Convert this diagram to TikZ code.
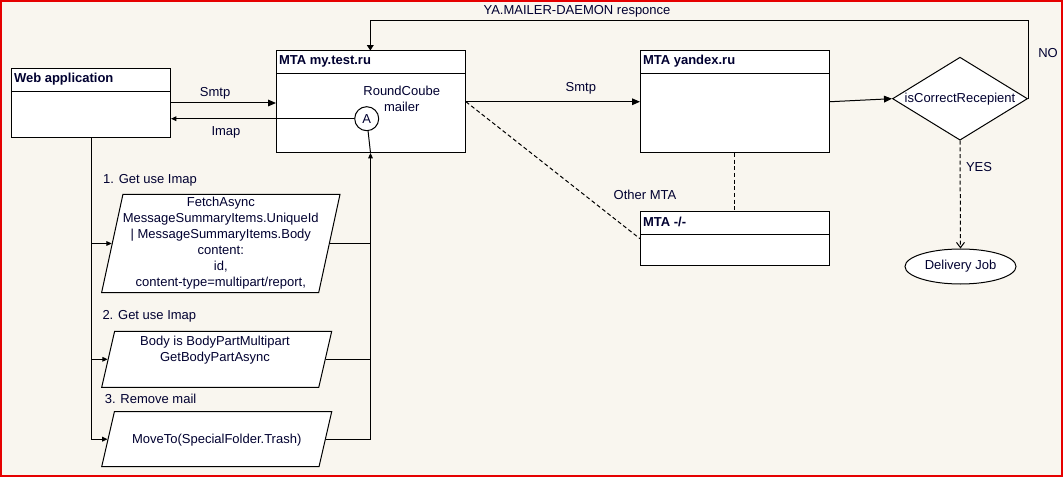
\documentclass[tikz,border=0pt]{standalone}
\usepackage{fontspec}
\setmainfont{Liberation Sans}
\usepackage{tikz}
\usetikzlibrary{shapes.geometric,arrows.meta,calc}
\definecolor{umlPaper}{RGB}{249,246,239}
\definecolor{umlInk}{RGB}{0,0,48}
\definecolor{umlFrame}{RGB}{230,0,0}

\begin{document}
\begin{tikzpicture}[x=0.75pt, y=-0.75pt, line width=0.75pt,
  font=\fontsize{9.75pt}{12pt}\selectfont, text=umlInk,
  klassbox/.style={draw, fill=white, inner sep=0pt, anchor=north west},
  ttl/.style={font=\fontsize{9.75pt}{12pt}\selectfont\bfseries, anchor=west, inner sep=0pt},
  io/.style={trapezium, trapezium left angle=77, trapezium right angle=103,
    trapezium stretches body, draw, fill=white, inner sep=0pt, align=center},
  lbl/.style={inner sep=0pt},
  arr/.style={-{Triangle[length=6pt,width=5pt]}},
  sarr/.style={-{Triangle[length=4pt,width=3.5pt]}},
  dsh/.style={dash pattern=on 3pt off 2pt}]

  % box with a title bar: name, x, y, width, height, title
  \newcommand{\klass}[6]{
    \node[klassbox, minimum width=#4*0.75pt, minimum height=#5*0.75pt] (#1) at (#2,#3) {};
    \node[ttl] (#1-title) at ($(#1.north west)+(2.5,11)$) {#6};
    \coordinate (#1-sep) at ($(#1.north west)+(0,23.5)$);
    \draw (#1-sep) -- (#1-sep -| #1.east);
  }

  \useasboundingbox (0,0) rectangle (1063,477);
  \draw[umlFrame, line width=1.5pt, fill=umlPaper] (1,1) rectangle (1062,476);

  \begin{scope}
%
 \klass{webapp}{11}{68}{159}{69}{Web application}
 \klass{mytest}{276}{50.5}{189}{101.5}{MTA my.test.ru}
 \klass{yandex}{640}{50.5}{188.5}{101.5}{MTA yandex.ru}
 \klass{other}{640}{211}{188.5}{54.5}{MTA -/-}
%
 \node[circle, draw, fill=white, inner sep=0pt, minimum size=24*0.75pt] (mailer) at (366.7,118.7) {A};
 \node[align=center, lbl] (mailer-txt) at (401.7,99) {RoundCoube\\mailer};
%
 \node[diamond, aspect=1.63, draw, fill=white, inner sep=0pt,
   minimum width=135*0.75pt, minimum height=83*0.75pt] (check) at (960,98.7) {isCorrectRecepient};
 \node[ellipse, draw, fill=white, inner sep=0pt,
   minimum width=111*0.75pt, minimum height=35*0.75pt] (job) at (960.5,266.5) {Delivery Job};
%
 \node[io, minimum width=238*0.75pt, minimum height=98*0.75pt] (fetch) at (220.8,243.5)
   {FetchAsync\\MessageSummaryItems.UniqueId\\| MessageSummaryItems.Body\\content:\\id,\\content-type=multipart/report,};
 \node[io, minimum width=230*0.75pt, text height=21pt, text depth=21pt] (bodypart) at (216.7,359.3) {};
 \node[align=center, lbl] (bodypart-txt) at (215,350.5) {Body is BodyPartMultipart\\GetBodyPartAsync};
 \node[io, minimum width=230*0.75pt, text height=24pt, text depth=17.25pt] (trash) at (216.7,439.2) {MoveTo(SpecialFolder.Trash)};
%
 \node[lbl, anchor=west] (step1) at (102.7,180.7) {1. Get use Imap};
 \node[lbl, anchor=west] (step2) at (102,316.7) {2. Get use Imap};
 \node[lbl, anchor=west] (step3) at (104.3,399.3) {3. Remove mail};
%
 \draw[arr] (webapp.east) -- node[lbl, above=2.5pt, pos=0.42] (smtp1) {Smtp} (webapp.east -| mytest.west);
 \draw[sarr] (mailer.west) -- node[lbl, below=5.7pt, pos=0.7] (imap) {Imap} (mailer.west -| webapp.east);
 \draw[arr] (mytest.east) -- node[lbl, above=5.4pt, pos=0.66] (smtp2) {Smtp} (yandex.west);
 \draw[dsh] (mytest.east) -- (other.west);
 \node[lbl] (other-lbl) at (645,195) {Other MTA};
 \draw[dsh] (yandex) -- (other);
 \draw[arr] (yandex.east) -- (check.west);
%
 \coordinate (daemon) at (370.3,20.5);
 \draw[-{Triangle[length=4pt,width=5pt]}] (check.east) |- (daemon) -- (mytest.north -| daemon);
 \node[lbl] (daemon-lbl) at (577,11) {YA.MAILER-DAEMON responce};
 \node[lbl] (no) at (1048,53) {NO};
 \draw[dsh, -{Straight Barb[length=4pt,width=6pt]}] (check.south) -- (job.north);
 \node[lbl] (yes) at (979,167) {YES};
%
 \coordinate (webout) at ($(webapp.south west)+(80.7,0)$);
 \draw[sarr] (webout) |- (fetch.west);
 \draw[sarr] (webout) |- (bodypart.west);
 \draw[sarr] (webout) |- (trash.west);
%
 \coordinate (mailin) at ($(mytest.south west)+(94.5,0)$);
 \draw[sarr] (trash.east) -| (mailin);
 \draw (fetch.east) -- (fetch.east -| mailin);
 \draw (bodypart.east) -- (bodypart.east -| mailin);
 \draw (mailin) -- (mailer);
  \end{scope}

\end{tikzpicture}
\end{document}
